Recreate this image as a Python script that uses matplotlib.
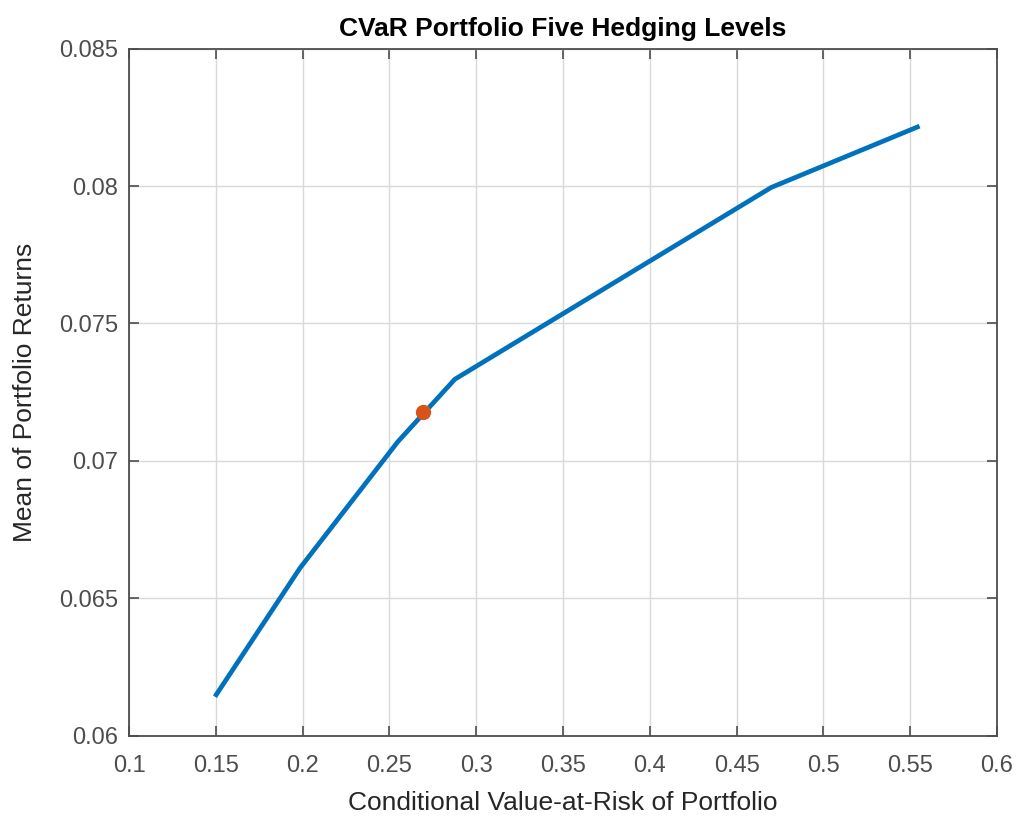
import numpy as np
import matplotlib
matplotlib.use("Agg")
import matplotlib.pyplot as plt

# frontier points (CVaR, mean return)
cvar = [0.1495, 0.1985, 0.2549, 0.2877, 0.4700, 0.5554]
mean_ret = [0.06142, 0.06610, 0.07070, 0.07297, 0.07995, 0.08218]

# selected hedging portfolio
sel_cvar = [0.2694]
sel_ret = [0.07179]

xticks = np.arange(0.1, 0.601, 0.05)
yticks = np.arange(0.06, 0.0851, 0.005)

plt.rcParams['font.family'] = ['Liberation Sans', 'DejaVu Sans']
dark = '#262626'
grey = '#4d4d4d'

fig = plt.figure(figsize=(10.19, 8.17), dpi=100)
ax = fig.add_axes([0.1266, 0.0995, 0.8518, 0.841])

ax.plot(cvar, mean_ret, color='#0072BD', linewidth=3.4, solid_capstyle='butt', zorder=3)
ax.plot(sel_cvar, sel_ret, 'o', color='#D95319', markersize=10, zorder=4)

ax.set_xlim(0.1, 0.6)
ax.set_ylim(0.06, 0.085)
ax.set_xticks(xticks)
ax.set_yticks(yticks)
ax.set_xticklabels([f"{v:g}" for v in np.round(xticks, 3)])
ax.set_yticklabels([f"{v:g}" for v in np.round(yticks, 3)])

ax.grid(True, color='#d9d9d9', linewidth=1.0)
ax.set_axisbelow(True)
ax.tick_params(direction='in', length=7, width=1.2, colors=grey, labelsize=17,
               top=True, right=True)
ax.tick_params(axis='x', pad=14)
ax.tick_params(axis='y', pad=8)
for s in ax.spines.values():
    s.set_color(grey)
    s.set_linewidth(1.3)

ax.set_xlabel('Conditional Value-at-Risk of Portfolio', fontsize=19, color=dark, labelpad=10)
ax.set_ylabel('Mean of Portfolio Returns', fontsize=19, color=dark, labelpad=16)
ax.set_title('CVaR Portfolio Five Hedging Levels', fontsize=19, fontweight='bold',
             color='black', pad=9)

fig.savefig('out.png', dpi=100)
